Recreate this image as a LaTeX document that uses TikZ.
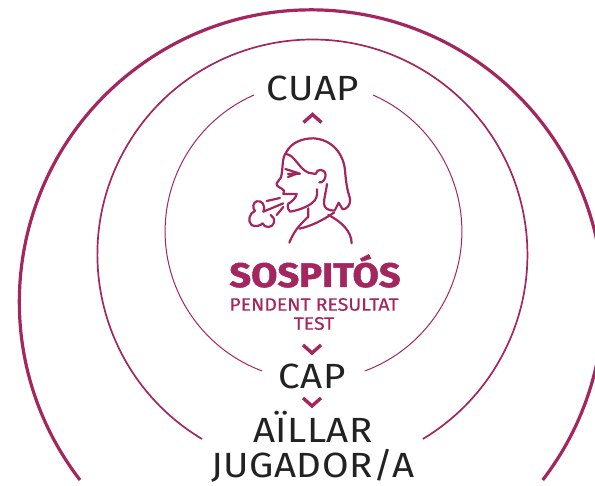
\documentclass[tikz,border=0pt]{standalone}
\usepackage{fontspec}
\setmainfont[FakeStretch=1.1,LetterSpace=1.5]{Fira Sans}
\newfontfamily\pend[FakeStretch=1.08,FakeBold=0.4]{Fira Sans}
\newfontfamily\heavy[FakeBold=1.5,FakeStretch=1.12]{Fira Sans}[BoldFont={* Bold}]
\definecolor{wine}{HTML}{A4265E}
\definecolor{ink}{HTML}{222222}
\tikzset{
  ring/.style={draw=wine,line cap=butt},
  chevron/.style={draw=wine,line width=3.4pt,line join=miter},
  face/.style={draw=wine,line width=2.2pt,line cap=round,line join=round},
  blacklabel/.style={text=ink,inner sep=0pt,align=center},
  winelabel/.style={text=wine,inner sep=0pt,align=center}
}
\begin{document}
\begin{tikzpicture}[x=1pt,y=-1pt]
\useasboundingbox (0,0) rectangle (595,486);
% rings
\begin{scope}
\clip (0,0) rectangle (595,486);
\draw[ring,line width=3.2pt] (80,480) arc[start angle=217.6,end angle=-37.6,radius=292pt];
\end{scope}
\draw[ring,line width=1.7pt] (202,439) arc[start angle=239.1,end angle=-59.1,radius=215pt];
\draw[ring,line width=1pt] (254,95) arc[start angle=113.8,end angle=249.6,radius=149pt];
\draw[ring,line width=1pt] (373,95) arc[start angle=66.2,end angle=-69.6,radius=149pt];
% labels
\node[blacklabel,font=\fontsize{35}{36}\selectfont] (cuap) at (313,88) {CUAP};
\node[blacklabel,font=\fontsize{35}{36}\selectfont] (cap) at (312,376) {CAP};
\node[blacklabel,font=\fontsize{35}{35}\selectfont] (aillar) at (313,447) {AÏLLAR\\JUGADOR/A};
\node[winelabel,font=\heavy\bfseries\fontsize{34}{34}\selectfont] (sospitos) at (315,271) {SOSPITÓS};
\node[winelabel,font=\pend\fontsize{18}{19}\selectfont] (pendent) at (314,314) {PENDENT RESULTAT\\TEST};
% chevrons
\draw[chevron] (303.5,122.5) -- (312.5,114.5) -- (321.5,122.5);
\draw[chevron] (303,345) -- (312,353) -- (321,345);
\draw[chevron] (303,398) -- (312,406) -- (321,398);
% person
\begin{scope}[xshift=200pt,yshift=-100pt,x=0.3333pt,y=-0.3333pt]
\draw[face] (258,158) .. controls (275,125) and (310,115) .. (340,115)
  .. controls (395,118) and (430,160) .. (435,210)
  .. controls (438,250) and (442,270) .. (450,295)
  .. controls (453,315) and (440,328) .. (428,328)
  -- (416,308) -- (404,332) .. controls (385,332) and (372,325) .. (372,310)
  .. controls (372,295) and (378,275) .. (381,252);
\draw[face] (258,158) .. controls (245,175) and (250,205) .. (243,232)
  -- (230,250) .. controls (228,262) and (245,262) .. (252,272) -- (250,282)
  -- (290,282) .. controls (288,295) and (275,305) .. (264,312)
  .. controls (262,322) and (265,332) .. (270,335)
  .. controls (290,332) and (320,322) .. (335,310)
  .. controls (350,300) and (353,285) .. (351,268);
\draw[face] (258,162) .. controls (285,165) and (295,205) .. (325,218)
  -- (347,222) .. controls (350,205) and (375,205) .. (377,225)
  .. controls (377,240) and (365,250) .. (358,247);
\draw[face] (256,207) -- (300,221) -- (264,222);
\draw[face] (264,231) -- (288,222);
\draw[face] (325,325) -- (325,350) .. controls (310,365) and (285,385) .. (268,428);
\draw[face] (298,386) .. controls (330,380) and (370,360) .. (402,338);
\draw[face] (385,345) .. controls (425,365) and (455,395) .. (455,430);
\draw[face] (200,303) -- (240,294);
\draw[face] (190,335) -- (250,310);
\draw[face] (230,345) -- (250,321);
\draw[face] (190,335) .. controls (198,315) and (185,300) .. (170,304)
  .. controls (158,308) and (157,325) .. (165,333)
  .. controls (148,338) and (142,365) .. (155,375)
  .. controls (165,382) and (180,378) .. (188,370)
  .. controls (192,385) and (218,385) .. (222,368)
  .. controls (224,358) and (220,350) .. (212,345);
\end{scope}
\end{tikzpicture}
\end{document}
